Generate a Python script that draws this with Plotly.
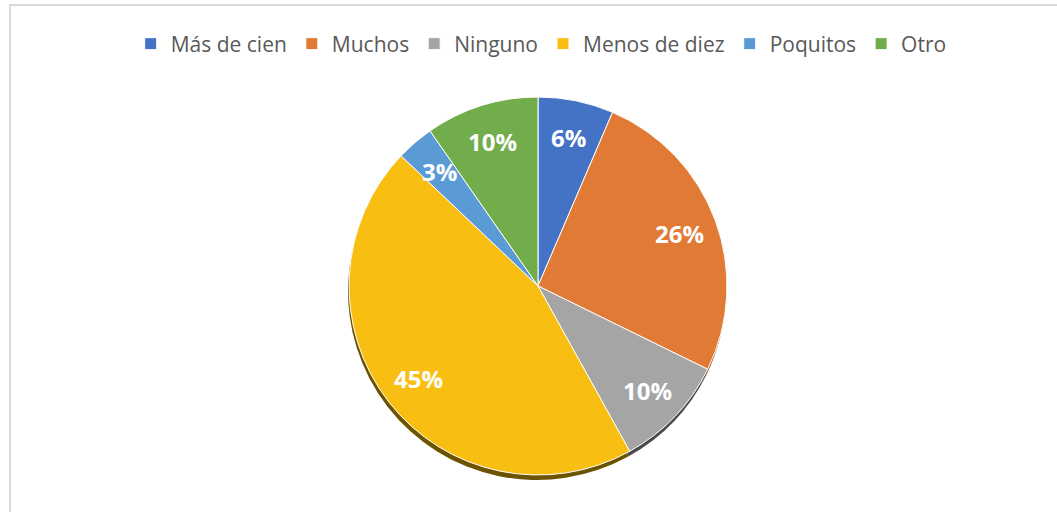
import math
import plotly.graph_objects as go

# answer counts per category (percentages shown on the slices)
categories = ['Más de cien', 'Muchos', 'Ninguno', 'Menos de diez', 'Poquitos', 'Otro']
counts = [2, 8, 3, 14, 1, 3]
colours = ['#4472C4', '#E07A34', '#A5A5A5', '#F9BE12', '#5B9BD5', '#72AD4C']
shadow_colours = ['#2b4a80', '#8a4a1e', '#4a4a4a', '#6b5300', '#3a6690', '#44692c']

W, H = 1057, 512
CX, CY, R = 538, 286, 189          # pie centre / radius in pixels
LABEL_R = 0.8 * R                  # Excel-style label distance

dom_x = [(CX - R) / W, (CX + R) / W]
dom_y = [1 - (CY + R) / H, 1 - (CY - R) / H]
off = 5 / H

fig = go.Figure()

# soft drop shadow under the pie
fig.add_trace(go.Pie(
    labels=categories, values=counts,
    sort=False, direction='clockwise',
    marker=dict(colors=shadow_colours, line=dict(width=0)),
    textinfo='none', hoverinfo='skip', showlegend=False,
    domain=dict(x=[dom_x[0] - 1 / W, dom_x[1] - 1 / W], y=[dom_y[0] - off, dom_y[1] - off]),
))

fig.add_trace(go.Pie(
    labels=categories, values=counts,
    sort=False, direction='clockwise',
    marker=dict(colors=colours, line=dict(color='white', width=1)),
    textinfo='none',
    domain=dict(x=dom_x, y=dom_y),
))

# percentage labels along each slice's mid angle
total = sum(counts)
cum = 0
annotations = []
for v in counts:
    mid = (cum + v / 2) / total * 2 * math.pi
    cum += v
    px = CX + LABEL_R * math.sin(mid)
    py = CY - LABEL_R * math.cos(mid)
    annotations.append(dict(
        x=px / W, y=1 - py / H, xref='paper', yref='paper',
        xanchor='center', yanchor='middle',
        text=f'{round(100 * v / total)}%', showarrow=False,
        font=dict(family='Open Sans', size=24, color='white', weight='bold'),
    ))

fig.update_layout(
    width=W, height=H,
    margin=dict(l=0, r=0, t=0, b=0),
    paper_bgcolor='white',
    font=dict(family='Open Sans', color='#595959'),
    legend=dict(
        orientation='h', x=0.512, xanchor='center', y=1 - 44 / H, yanchor='middle',
        font=dict(size=21, color='#595959'), itemwidth=30, traceorder='normal',
    ),
    annotations=annotations,
    shapes=[dict(type='rect', xref='paper', yref='paper',
                 x0=10 / W, x1=1.02, y0=-0.02, y1=1 - 5 / H,
                 line=dict(color='#d9d9d9', width=2))],
)

fig.write_html('out.html', config={'displayModeBar': False},
               post_script="document.body.style.margin='0';")
